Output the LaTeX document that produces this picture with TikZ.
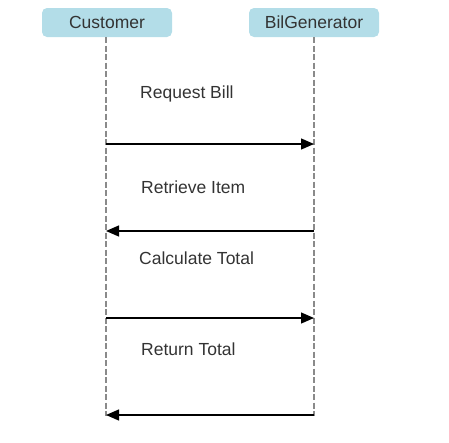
\documentclass[tikz,border=0pt]{standalone}
\usepackage{fontspec}
\setmainfont{Liberation Sans}
\usetikzlibrary{arrows.meta}

\begin{document}
\begin{tikzpicture}[x=1pt,y=-1pt,
	actor/.style={fill=boxblue,rounded corners=5pt,minimum width=130pt,minimum height=29pt,inner sep=0pt,text=textgray,font=\fontsize{17.5}{19}\selectfont},
	lifeline/.style={draw=linegray,line width=2.2pt,dash pattern=on 6pt off 2.5pt},
	message/.style={draw=black,line width=1.3pt,-{Triangle[length=13pt,width=11pt]}},
	msglabel/.style={anchor=west,inner sep=0pt,text=textgray,font=\fontsize{17.5}{19}\selectfont}]
	\definecolor{boxblue}{HTML}{B3DDE8}
	\definecolor{textgray}{HTML}{333333}
	\definecolor{linegray}{HTML}{8A8A8A}
	\useasboundingbox (0,0) rectangle (449,442);
	% actors
	\node[actor] (customer) at (107,22.5) {Customer};
	\node[actor] (generator) at (314,22.5) {BilGenerator};
	% lifelines
	\coordinate (cend) at (106,416);
	\coordinate (gend) at (314,416);
	\path[lifeline] (customer.south -| cend) -- (cend);
	\path[lifeline] (generator.south -| gend) -- (gend);
	% messages
	\coordinate (c1) at (106,144); \coordinate (g1) at (314,144);
	\coordinate (c2) at (106,231); \coordinate (g2) at (314,231);
	\coordinate (c3) at (106,318); \coordinate (g3) at (314,318);
	\coordinate (c4) at (106,415); \coordinate (g4) at (314,415);
	\node[msglabel] (lbill) at (140,94) {Request Bill};
	\node[msglabel] (litem) at (141,187) {Retrieve Item};
	\node[msglabel] (ltotal) at (139,258) {Calculate Total};
	\node[msglabel] (lreturn) at (141,349) {Return Total};
	\path[message] (c1) -- (g1);
	\path[message] (g2) -- (c2);
	\path[message] (c3) -- (g3);
	\path[message] (g4) -- (c4);
\end{tikzpicture}
\end{document}
